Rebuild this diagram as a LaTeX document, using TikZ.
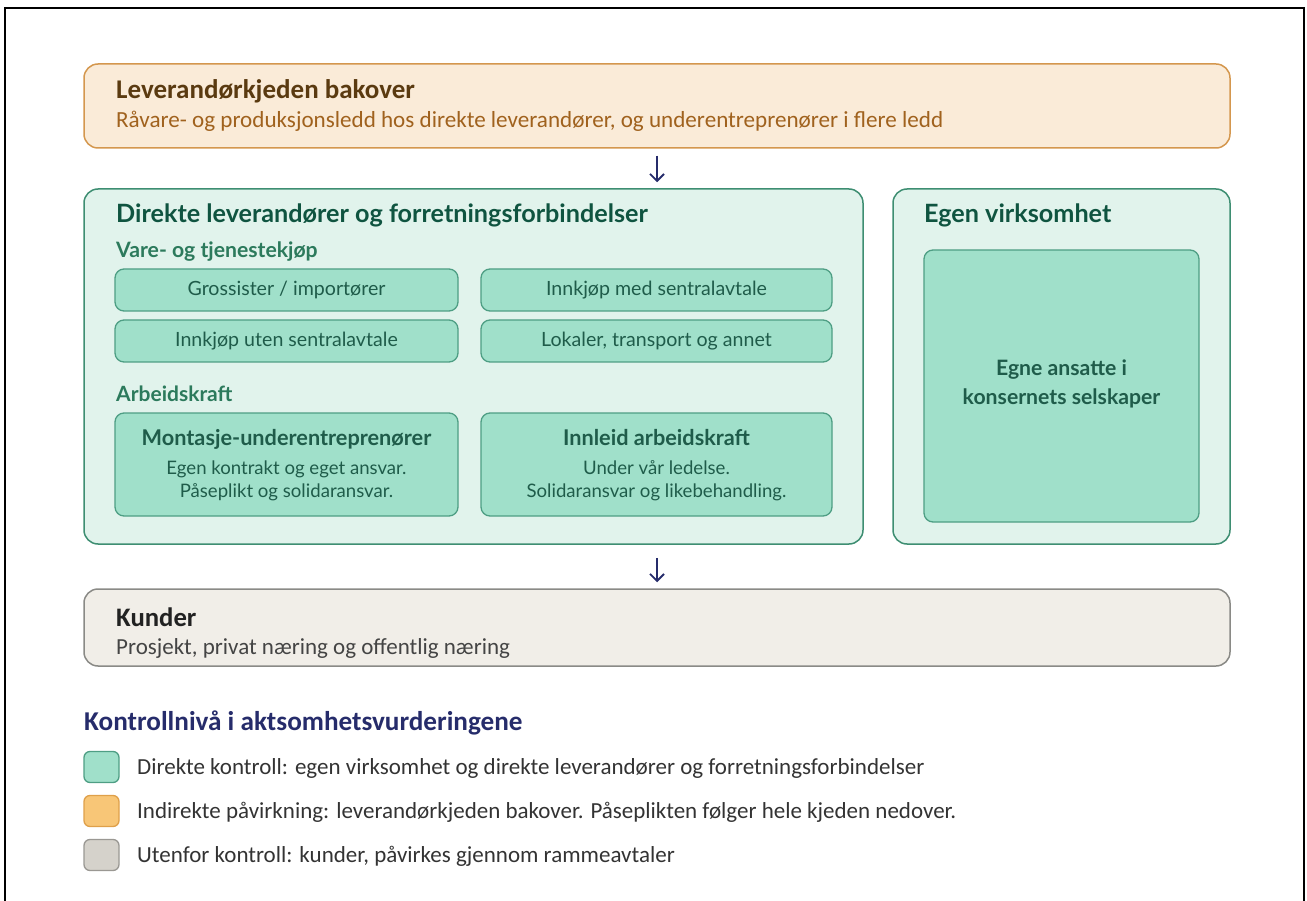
\documentclass[tikz,border=0pt]{standalone}
\usepackage{fontspec}
\setmainfont{Carlito}
\newfontfamily\latofont{Lato}
\usetikzlibrary{arrows.meta}
\definecolor{ofill}{HTML}{FAEBD8}
\definecolor{oline}{HTML}{D4974E}
\definecolor{otitle}{HTML}{5A3A10}
\definecolor{osub}{HTML}{A0621E}
\definecolor{gfill}{HTML}{E1F3EC}
\definecolor{gline}{HTML}{3E8E72}
\definecolor{ifill}{HTML}{A0E0CA}
\definecolor{iline}{HTML}{4E9E84}
\definecolor{itext}{HTML}{1F5C4A}
\definecolor{gtitle}{HTML}{0F5440}
\definecolor{gsec}{HTML}{2C7A5C}
\definecolor{navy}{HTML}{262C6B}
\definecolor{kfill}{HTML}{F1EEE8}
\definecolor{kline}{HTML}{8A8A86}
\definecolor{ktitle}{HTML}{222222}
\definecolor{ksub}{HTML}{444444}
\definecolor{lorange}{HTML}{F8C677}
\definecolor{lorangeline}{HTML}{DFA04A}
\definecolor{lgray}{HTML}{D5D2CB}
\definecolor{lgrayline}{HTML}{9A9893}
\definecolor{ltext}{HTML}{333333}
\begin{document}
\begin{tikzpicture}[x=1pt,y=-1pt,
  box/.style={rounded corners=14pt, line width=1.5pt, inner sep=0pt},
  obox/.style={box, draw=oline, fill=ofill},
  gbox/.style={box, draw=gline, fill=gfill},
  ibox/.style={rounded corners=9pt, line width=1.3pt, draw=iline, fill=ifill, inner sep=0pt, text=itext, font=\latofont\fontsize{19.6}{23}\selectfont, align=center},
  kbox/.style={box, draw=kline, fill=kfill},
  lsq/.style={rounded corners=6pt, line width=1.3pt, minimum width=35pt, minimum height=31pt, inner sep=0pt},
  lbl/.style={anchor=base west, inner sep=0pt},
  ctr/.style={anchor=base, inner sep=0pt, text=itext},
  arr/.style={draw=navy, line width=1.8pt, -{Straight Barb[length=7pt,width=14pt,line width=1.8pt]}},
]
\useasboundingbox (0,0) rectangle (1307,901);
\draw[line width=2pt] (5,901) -- (5,8) -- (1304,8) -- (1304,901);

% top box
\node[obox, minimum width=1146pt, minimum height=84pt] (top) at (657,106) {};
\node[lbl, text=otitle, font=\fontsize{27}{31}\bfseries\selectfont] (toptitle) at (116,99) {Leverandørkjeden bakover};
\node[lbl, text=osub, font=\fontsize{23.1}{27}\selectfont] (topsub) at (116,128) {Råvare- og produksjonsledd hos direkte leverandører, og underentreprenører i flere ledd};

% direct box
\node[gbox, minimum width=779pt, minimum height=355pt] (direct) at (473.5,366.5) {};
\node[lbl, text=gtitle, font=\latofont\fontsize{25.2}{29}\bfseries\selectfont] (dtitle) at (116,223) {Direkte leverandører og forretningsforbindelser};
\node[lbl, text=gsec, font=\latofont\fontsize{21.2}{25}\bfseries\selectfont] (vare) at (116,258) {Vare- og tjenestekjøp};
\node[ibox, minimum width=343pt, minimum height=42pt] (b1) at (286.5,290) {Grossister / importører};
\node[ibox, minimum width=351pt, minimum height=42pt] (b2) at (656.5,290) {Innkjøp med sentralavtale};
\node[ibox, minimum width=343pt, minimum height=42pt] (b3) at (286.5,341) {Innkjøp uten sentralavtale};
\node[ibox, minimum width=351pt, minimum height=42pt] (b4) at (656.5,341) {Lokaler, transport og annet};
\node[lbl, text=gsec, font=\latofont\fontsize{21}{25}\bfseries\selectfont] (arb) at (116,401) {Arbeidskraft};
\node[ibox, minimum width=343pt, minimum height=103pt] (b5) at (286.5,464.5) {};
\node[ibox, minimum width=351pt, minimum height=103pt] (b6) at (656.5,464.5) {};
\node[ctr, font=\latofont\fontsize{21.7}{25}\bfseries\selectfont] (b5t) at (286.5,445) {Montasje-underentreprenører};
\node[ctr, font=\latofont\fontsize{18.6}{22}\selectfont] (b5s1) at (286.5,474) {Egen kontrakt og eget ansvar.};
\node[ctr, font=\latofont\fontsize{18.6}{22}\selectfont] (b5s2) at (286.5,497) {Påseplikt og solidaransvar.};
\node[ctr, font=\latofont\fontsize{21.7}{25}\bfseries\selectfont] (b6t) at (656.5,445) {Innleid arbeidskraft};
\node[ctr, font=\latofont\fontsize{18.6}{22}\selectfont] (b6s1) at (656.5,474) {Under vår ledelse.};
\node[ctr, font=\latofont\fontsize{18.6}{22}\selectfont] (b6s2) at (656.5,497) {Solidaransvar og likebehandling.};

% own box
\node[gbox, minimum width=337pt, minimum height=355pt] (own) at (1061.5,366.5) {};
\node[lbl, text=gtitle, font=\latofont\fontsize{25.2}{29}\bfseries\selectfont] (otitle) at (924,223) {Egen virksomhet};
\node[ibox, minimum width=275pt, minimum height=272pt] (emp) at (1061.5,386) {};
\node[ctr, font=\latofont\fontsize{21.2}{25}\bfseries\selectfont] (emp1) at (1061.5,375) {Egne ansatte i};
\node[ctr, font=\latofont\fontsize{21.2}{25}\bfseries\selectfont] (emp2) at (1061.5,404) {konsernets selskaper};

% customers
\node[kbox, minimum width=1146pt, minimum height=77pt] (kunder) at (657,627.5) {};
\node[lbl, text=ktitle, font=\fontsize{26.7}{31}\bfseries\selectfont] (ktit) at (116,626) {Kunder};
\node[lbl, text=ksub, font=\fontsize{23}{27}\selectfont] (ksubt) at (116,654) {Prosjekt, privat næring og offentlig næring};

% arrows
\draw[arr, shorten <=7pt, shorten >=6pt] (top.south) -- (top.south |- direct.north);
\draw[arr, shorten <=13pt, shorten >=6pt] (kunder.north |- direct.south) -- (kunder.north);

% legend
\node[lbl, text=navy, font=\fontsize{27.2}{31}\bfseries\selectfont] (legt) at (84,730) {Kontrollnivå i aktsomhetsvurderingene};
\node[lsq, draw=iline, fill=ifill] (sq1) at (101.5,767) {};
\node[lsq, draw=lorangeline, fill=lorange] (sq2) at (101.5,811) {};
\node[lsq, draw=lgrayline, fill=lgray] (sq3) at (101.5,855) {};
\node[lbl, text=ltext, font=\fontsize{23}{27}\selectfont] (l1) at (137,774) {Direkte kontroll: egen virksomhet og direkte leverandører og forretningsforbindelser};
\node[lbl, text=ltext, font=\fontsize{23}{27}\selectfont] (l2) at (137,818) {Indirekte påvirkning: leverandørkjeden bakover. Påseplikten følger hele kjeden nedover.};
\node[lbl, text=ltext, font=\fontsize{23}{27}\selectfont] (l3) at (137,862) {Utenfor kontroll: kunder, påvirkes gjennom rammeavtaler};
\end{tikzpicture}
\end{document}
